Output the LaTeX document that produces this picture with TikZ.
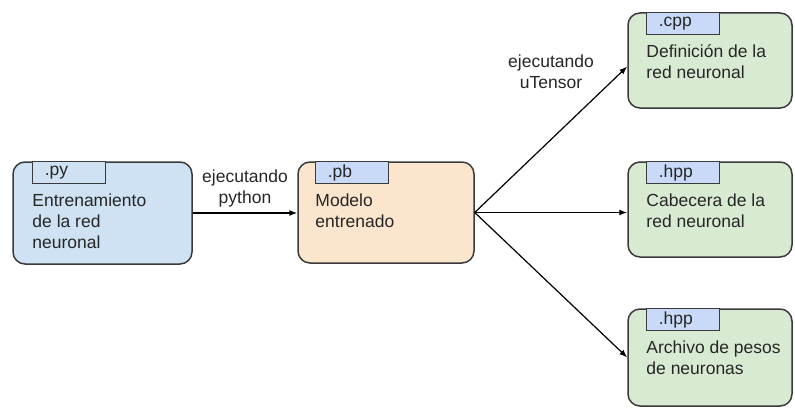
\documentclass[tikz,border=0pt]{standalone}
\usepackage{fontspec}
\setmainfont{Liberation Sans}
\usetikzlibrary{arrows.meta,calc}
\definecolor{bluefill}{HTML}{CFE2F3}
\definecolor{tabfill}{HTML}{C9DAF8}
\definecolor{orangefill}{HTML}{FCE5CD}
\definecolor{greenfill}{HTML}{D9EAD3}
\definecolor{edge}{HTML}{3A3A3A}
\definecolor{ink}{HTML}{262626}
\begin{document}
\begin{tikzpicture}[x=1pt,y=-1pt,
  font=\fontsize{17.5}{21}\selectfont,
  every node/.style={text=ink},
  box/.style={draw=edge, line width=1.5pt, rounded corners=12pt, inner sep=0pt},
  tabbox/.style={draw=edge, line width=1pt, fill=tabfill, anchor=north west,
    minimum height=22pt, text width=49pt, inner xsep=12pt, inner ysep=0pt, align=left},
  body/.style={anchor=north west, inner sep=0pt, align=left},
  lbl/.style={inner sep=0pt, align=center},
  conn/.style={line width=1.2pt, draw=black, -{Latex[length=8pt,width=6pt]}}
]
\useasboundingbox (0,0) rectangle (795,412);

% boxes
\node[box, fill=bluefill, minimum width=179pt, minimum height=102pt] (b1) at (102.5,213) {};
\node[box, fill=orangefill, minimum width=176pt, minimum height=101pt] (b2) at (386,212.5) {};
\node[box, fill=greenfill, minimum width=164pt, minimum height=95pt] (ga) at (710,60.5) {};
\node[box, fill=greenfill, minimum width=164pt, minimum height=95pt] (gb) at (710,209.5) {};
\node[box, fill=greenfill, minimum width=164pt, minimum height=97pt] (gc) at (710,357.5) {};

% tabs
\node[tabbox, fill=bluefill] (t1) at ([xshift=20pt]b1.north west) {.py};
\node[tabbox] (t2) at ([xshift=18pt]b2.north west) {.pb};
\node[tabbox] (ta) at ([xshift=19pt]ga.north west) {.cpp};
\node[tabbox] (tb) at ([xshift=19pt]gb.north west) {.hpp};
\node[tabbox] (tc) at ([xshift=19pt]gc.north west) {.hpp};

% body texts
\node[body] (x1) at ([yshift=-9.5pt]t1.south west) {Entrenamiento\\de la red\\neuronal};
\node[body] (x2) at ([yshift=-9.5pt]t2.south west) {Modelo\\entrenado};
\node[body] (xa) at ([yshift=-9.5pt]ta.south west) {Definición de la\\red neuronal};
\node[body] (xb) at ([yshift=-9.5pt]tb.south west) {Cabecera de la\\red neuronal};
\node[body] (xc) at ([yshift=-9.5pt]tc.south west) {Archivo de pesos\\de neuronas};

% connectors
\draw[conn] (b1.east) -- (b1.east -| b2.west)
  node[lbl, midway, anchor=south, yshift=5pt] (l1) {ejecutando\\python};
\draw[conn] (b2.east) -- ([yshift=-6pt]ga.west);
\draw[conn] (b2.east) -- (b2.east -| gb.west);
\draw[conn] (b2.east) -- (gc.west);
\node[lbl, anchor=south] (l2) at (551,89) {ejecutando\\uTensor};
\end{tikzpicture}
\end{document}
